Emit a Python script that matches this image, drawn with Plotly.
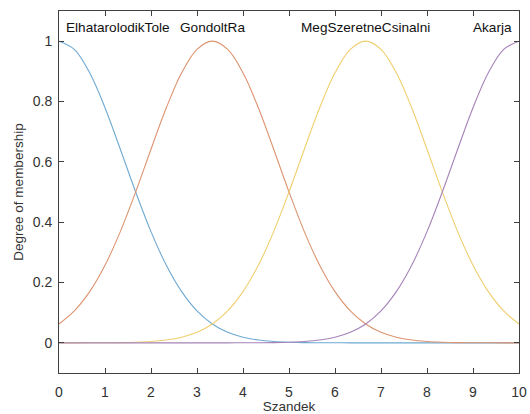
import plotly.graph_objects as go

# Sample positions along the input range (Szandek)
x_samples = [0, 0.333, 0.667, 1, 1.333, 1.667, 2, 2.333, 2.667, 3, 3.333,
             3.667, 4, 4.333, 4.667, 5, 5.333, 5.667, 6, 6.333, 6.667,
             7, 7.333, 7.667, 8, 8.333, 8.667, 9, 9.333, 9.667, 10]

mf_names = ["ElhatarolodikTole", "GondoltRa", "MegSzeretneCsinalni", "Akarja"]
mf_peaks = [0, 3.333, 6.667, 10]

elhatarolodik = [1, .9727, .895, .7792, .6418, .5001, .3687, .2571, .1696, .1059, .0626,
                 .0349, .0185, .0092, .0044, .002, .0008, .0003, .0001, 0, 0,
                 0, 0, 0, 0, 0, 0, 0, 0, 0, 0]
gondoltra = [.0626, .1059, .1696, .2571, .3687, .5001, .6418, .7792, .895, .9727, 1,
             .9727, .895, .7792, .6418, .5001, .3687, .2571, .1696, .1059, .0626,
             .0349, .0185, .0092, .0044, .002, .0008, .0003, .0001, 0, 0]
megszeretne = [0, 0, .0001, .0003, .0008, .002, .0044, .0092, .0185, .0349, .0626,
               .1059, .1696, .2571, .3687, .5001, .6418, .7792, .895, .9727, 1,
               .9727, .895, .7792, .6418, .5001, .3687, .2571, .1696, .1059, .0626]
akarja = [0, 0, 0, 0, 0, 0, 0, 0, 0, 0, 0,
          0, .0001, .0003, .0008, .002, .0044, .0092, .0185, .0349, .0626,
          .1059, .1696, .2571, .3687, .5001, .6418, .7792, .895, .9727, 1]

series = [elhatarolodik, gondoltra, megszeretne, akarja]
colors = ["#6fa9d2", "#dd9470", "#efcf6e", "#a583b8"]

x_ticks = [0, 1, 2, 3, 4, 5, 6, 7, 8, 9, 10]
y_ticks = [0, 0.2, 0.4, 0.6, 0.8, 1]
y_tick_text = ["0", "0.2", "0.4", "0.6", "0.8", "1"]

FONT = "Liberation Sans, Arial, sans-serif"
fig = go.Figure()
for name, ys, col in zip(mf_names, series, colors):
    fig.add_trace(go.Scatter(x=x_samples, y=ys, mode="lines", name=name,
                             line=dict(color=col, width=1.1, shape="spline"),
                             showlegend=False, hoverinfo="skip"))

label_pos = [(0.1, "left"), (mf_peaks[1], "center"), (mf_peaks[2], "center"), (9.89, "right")]
for name, (lx, anc) in zip(mf_names, label_pos):
    fig.add_annotation(x=lx, y=1.045, text=name, showarrow=False, xanchor=anc,
                       yanchor="middle", font=dict(family=FONT, size=13.6, color="#111111"))

axis_common = dict(showline=True, linecolor="#404040", linewidth=1, mirror="ticks",
                   ticks="inside", ticklen=5, tickcolor="#404040", tickwidth=1,
                   showgrid=False, zeroline=False, automargin=False,
                   tickfont=dict(family=FONT, size=14, color="#333333"))
fig.update_xaxes(range=[0, 10], tickvals=x_ticks, ticktext=[str(v) for v in x_ticks],
                 ticklabelstandoff=6,
                 title=dict(text="Szandek", standoff=2, font=dict(family=FONT, size=13.5, color="#333333")),
                 **axis_common)
fig.update_yaxes(range=[-0.1, 1.1], tickvals=y_ticks, ticktext=y_tick_text,
                 ticklabelstandoff=3,
                 title=dict(text="Degree of membership", standoff=6, font=dict(family=FONT, size=13.5, color="#333333")),
                 **axis_common)
fig.update_layout(width=530, height=414, margin=dict(l=59, r=11, t=11, b=41),
                  paper_bgcolor="white", plot_bgcolor="white")
fig.write_html("out.html")
